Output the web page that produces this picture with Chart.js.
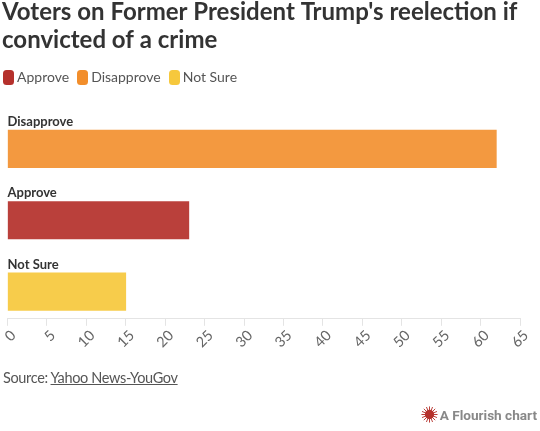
<!DOCTYPE html>
<html><head><meta charset="utf-8">
<script src="https://cdn.jsdelivr.net/npm/chart.js@4"></script>
<style>
html,body{margin:0;padding:0;background:#fff;overflow:hidden}
#wrap{position:relative;width:540px;height:431px}
canvas{position:absolute;left:0;top:0}
.lg{position:absolute;left:3px;top:66px;display:flex;font:14px Lato,sans-serif;color:#555;line-height:22px}
.lg span.i{display:flex;align-items:center;margin-right:8px}
.lg b{display:inline-block;width:11px;height:15px;border-radius:3.5px;margin-right:3px}
.src{position:absolute;left:3px;top:369px;font:14.5px Lato,sans-serif;color:#555;letter-spacing:-.35px}
.src a{color:#555;text-decoration:underline}
.fl{position:absolute;right:3px;top:406px;font:bold 13.6px Roboto,sans-serif;color:#888;display:flex;align-items:center;gap:2px}
</style></head><body>
<div id="wrap"><canvas id="c" width="540" height="431"></canvas>
<div class="lg" id="lg"></div>
<div class="src">Source: <a href="#">Yahoo News-YouGov</a></div>
<div class="fl"><svg width="17" height="17" viewBox="-10 -10 20 20"><circle r="5.5" fill="#b5312c"/><g stroke="#b5312c" stroke-width="1.1"><path d="M0-9.5V9.5M-9.5 0H9.5M-6.7-6.7L6.7 6.7M-6.7 6.7L6.7-6.7M-3.6-8.8L3.6 8.8M3.6-8.8L-3.6 8.8M-8.8-3.6L8.8 3.6M-8.8 3.6L8.8-3.6"/></g></svg>A Flourish chart</div>
</div>
<script>
const titleLines=["Voters on Former President Trump's reelection if","convicted of a crime"];
const categories=["Disapprove","Approve","Not Sure"];
const seriesNames=["Approve","Disapprove","Not Sure"];
const approveValues=[null,23,null];
const disapproveValues=[62,null,null];
const notSureValues=[null,null,15];
const xTicks=[0,5,10,15,20,25,30,35,40,45,50,55,60,65];
const rows=v=>v.map((x,i)=>({x,y:i})).filter(p=>p.x!==null);
const legendColors=["#b5312c","#f28e2b","#f6c83d"];
const barColors=["rgba(181,49,44,.93)","rgba(242,142,43,.9)","rgba(246,200,61,.93)"];
document.getElementById('lg').innerHTML=seriesNames.map((t,i)=>`<span class="i"><b style="background:${legendColors[i]}"></b>${t}</span>`).join('');
new Chart(document.getElementById('c'),{
 type:'bar',
 data:{datasets:[approveValues,disapproveValues,notSureValues].map((v,i)=>({
  label:seriesNames[i],data:rows(v),backgroundColor:barColors[i],borderWidth:0,barThickness:37.5,grouped:false}))},
 options:{
  indexAxis:'y',responsive:false,animation:false,
  layout:{padding:{left:2,right:20,top:-2,bottom:79}},
  scales:{
   x:{type:'linear',min:0,max:65,afterBuildTicks:a=>{a.ticks=xTicks.map(value=>({value}))},
    afterFit:s=>{s.paddingLeft=7.5},
    grid:{display:true,drawOnChartArea:false,drawTicks:true,tickLength:7,color:'#e4e4e4'},
    border:{color:'#e4e4e4',width:1},
    ticks:{autoSkip:false,maxRotation:45,minRotation:45,color:'#666',font:{family:'Lato',size:14.5},padding:1,labelOffset:6}},
   y:{type:'linear',reverse:true,min:-0.5,max:2.38,offset:false,display:true,
    afterBuildTicks:a=>{a.ticks=categories.map((_,value)=>({value}))},
    afterFit:s=>{s.width=0},
    grid:{display:false},border:{display:false},
    ticks:{mirror:true,autoSkip:false,callback:v=>categories[v],color:'#333',font:{family:'Lato',size:13,weight:'bold'},padding:0,labelOffset:-27}}
  },
  plugins:{
   title:{display:true,text:titleLines,align:'start',color:'#333',font:{family:'Lato',size:24,weight:'bold',lineHeight:1.17},padding:{top:0,bottom:59}},
   legend:{display:false},
   tooltip:{enabled:false}
  }
 }
});
</script></body></html>
